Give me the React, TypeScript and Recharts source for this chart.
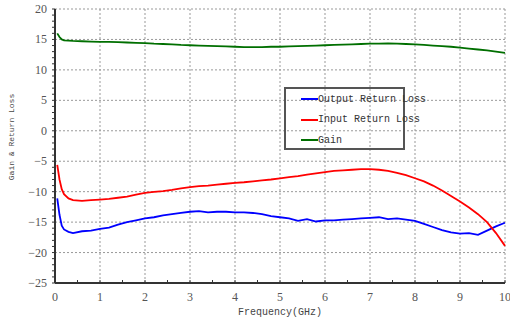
import { LineChart, Line, XAxis, YAxis, CartesianGrid, Legend, Label } from 'recharts';

const freq = [
  0.05, 0.1, 0.15, 0.2, 0.3, 0.4, 0.6, 0.8, 1.0, 1.2, 1.4, 1.6, 1.8, 2.0, 2.2, 2.4, 2.6, 2.8,
  3.0, 3.2, 3.4, 3.6, 3.8, 4.0, 4.2, 4.4, 4.6, 4.8, 5.0, 5.2, 5.4, 5.6, 5.8, 6.0, 6.2, 6.4,
  6.6, 6.8, 7.0, 7.2, 7.4, 7.6, 7.8, 8.0, 8.2, 8.4, 8.6, 8.8, 9.0, 9.2, 9.4, 9.6, 9.8, 10.0,
];

const outputReturnLoss = [
  -11.1, -13.8, -15.6, -16.2, -16.6, -16.8, -16.5, -16.4, -16.1, -15.9, -15.4, -15.0, -14.7, -14.4, -14.2, -13.9, -13.7, -13.5,
  -13.3, -13.2, -13.4, -13.3, -13.3, -13.4, -13.4, -13.5, -13.7, -14.0, -14.2, -14.4, -14.8, -14.5, -14.9, -14.7, -14.7, -14.6,
  -14.5, -14.4, -14.3, -14.2, -14.5, -14.4, -14.6, -14.8, -15.3, -15.8, -16.3, -16.7, -16.9, -16.8, -17.1, -16.4, -15.7, -15.1,
];

const inputReturnLoss = [
  -5.6, -8.0, -9.6, -10.4, -11.1, -11.4, -11.5, -11.4, -11.3, -11.2, -11.0, -10.8, -10.5, -10.2, -10.05, -9.9, -9.7, -9.45,
  -9.25, -9.1, -9.0, -8.85, -8.7, -8.55, -8.45, -8.3, -8.15, -8.0, -7.8, -7.6, -7.45, -7.2, -7.0, -6.8, -6.6, -6.5,
  -6.4, -6.3, -6.3, -6.4, -6.6, -6.9, -7.3, -7.8, -8.3, -9.0, -9.8, -10.7, -11.6, -12.6, -13.7, -15.0, -16.8, -18.9,
];

const gain = [
  16.0, 15.4, 15.0, 14.85, 14.8, 14.75, 14.7, 14.65, 14.6, 14.6, 14.55, 14.5, 14.45, 14.4, 14.3, 14.25, 14.2, 14.1,
  14.05, 14.0, 13.95, 13.9, 13.85, 13.8, 13.75, 13.75, 13.75, 13.8, 13.8, 13.85, 13.9, 13.95, 14.0, 14.05, 14.1, 14.15,
  14.2, 14.25, 14.3, 14.3, 14.35, 14.3, 14.25, 14.2, 14.1, 14.0, 13.9, 13.8, 13.65, 13.5, 13.35, 13.2, 13.0, 12.8,
];

const xTicks = [0, 0.5, 1, 1.5, 2, 2.5, 3, 3.5, 4, 4.5, 5, 5.5, 6, 6.5, 7, 7.5, 8, 8.5, 9, 9.5, 10];
const yTicks = [
  -25, -24, -23, -22, -21, -20, -19, -18, -17, -16, -15, -14, -13, -12, -11, -10, -9, -8, -7, -6, -5, -4, -3, -2, -1,
  0, 1, 2, 3, 4, 5, 6, 7, 8, 9, 10, 11, 12, 13, 14, 15, 16, 17, 18, 19, 20,
];
const xGrid = [0, 1, 2, 3, 4, 5, 6, 7, 8, 9, 10];
const yGrid = [-25, -20, -15, -10, -5, 0, 5, 10, 15, 20];

const series = [
  { key: 'out', name: 'Output Return Loss', color: '#0000ff' },
  { key: 'inp', name: 'Input Return Loss', color: '#ff0000' },
  { key: 'gain', name: 'Gain', color: '#006f00' },
];

const data = freq.map((f, i) => ({
  f,
  out: outputReturnLoss[i],
  inp: inputReturnLoss[i],
  gain: gain[i],
}));

const tickFont = 'Liberation Serif, serif';
const monoFont = 'Liberation Mono, monospace';

function XTick({ x, y, payload }: any) {
  const v = payload.value;
  const major = Number.isInteger(v);
  return (
    <g>
      <line x1={x} x2={x} y1={y} y2={y - 3} stroke="#333" strokeWidth={1} />
      {major && (
        <text x={x} y={y + 18} textAnchor="middle" fontSize={12} fill="#555" fontFamily={tickFont}>
          {v}
        </text>
      )}
    </g>
  );
}

function YTick({ x, y, payload }: any) {
  const v = payload.value;
  const major = v % 5 === 0;
  return (
    <g>
      <line x1={x - 3} x2={x} y1={y} y2={y} stroke="#333" strokeWidth={1} />
      {major && (
        <text x={x - 8} y={y + 4} textAnchor="end" fontSize={12} fill="#555" fontFamily={tickFont}>
          {v < 0 ? '\u2212' + Math.abs(v) : v}
        </text>
      )}
    </g>
  );
}

function LegendBox() {
  return (
    <div style={{ position: 'relative', width: 120, height: 62, fontFamily: monoFont, fontSize: 10, color: '#333' }}>
      <div
        style={{
          position: 'absolute',
          left: 0,
          top: 0,
          width: 117,
          height: 59,
          borderStyle: 'solid',
          borderWidth: 2,
          borderColor: '#555',
        }}
      />
      {series.map((s, i) => (
        <div
          key={s.key}
          style={{
            position: 'absolute',
            left: 17,
            top: 5 + i * 20.5,
            height: 14,
            display: 'flex',
            alignItems: 'center',
            whiteSpace: 'nowrap',
          }}
        >
          <div style={{ flexShrink: 0, width: 17, height: 2, background: s.color }} />
          <span>{s.name}</span>
        </div>
      ))}
    </div>
  );
}

export default function App() {
  return (
    <div style={{ position: 'absolute', left: 0, top: 0, background: '#fff' }}>
      <LineChart width={510} height={323} data={data} margin={{ top: 9, right: 5, bottom: 0, left: 0 }}>
        <CartesianGrid
          stroke="#999"
          strokeDasharray="2 2"
          verticalValues={xGrid}
          horizontalValues={yGrid}
        />
        <XAxis
          dataKey="f"
          type="number"
          domain={[0, 10]}
          ticks={xTicks}
          interval={0}
          height={40}
          tickSize={0}
          tickMargin={0}
          tickLine={false}
          tick={<XTick />}
          axisLine={{ stroke: '#333', strokeWidth: 2 }}
        >
          <Label
            content={({ viewBox }: any) => (
              <text
                x={viewBox.x + viewBox.width / 2}
                y={viewBox.y + 32}
                textAnchor="middle"
                fontSize={10}
                fill="#444"
                fontFamily={monoFont}
              >
                Frequency(GHz)
              </text>
            )}
          />
        </XAxis>
        <YAxis
          type="number"
          domain={[-25, 20]}
          ticks={yTicks}
          interval={0}
          width={55}
          tickSize={0}
          tickMargin={0}
          tickLine={false}
          tick={<YTick />}
          axisLine={{ stroke: '#333', strokeWidth: 2 }}
        >
          <Label
            content={() => (
              <text
                x={14}
                y={137}
                transform="rotate(-90 14 137)"
                textAnchor="middle"
                fontSize={8}
                fill="#444"
                fontFamily={monoFont}
              >
                Gain &amp; Return Loss
              </text>
            )}
          />
        </YAxis>
        <Legend
          layout="horizontal"
          verticalAlign="middle"
          align="center"
          content={<LegendBox />}
          wrapperStyle={{ left: 284, top: 87, width: 120, height: 62 }}
        />
        {series.map((s) => (
          <Line
            key={s.key}
            type="linear"
            dataKey={s.key}
            name={s.name}
            stroke={s.color}
            strokeWidth={1.8}
            dot={false}
            isAnimationActive={false}
          />
        ))}
      </LineChart>
    </div>
  );
}
